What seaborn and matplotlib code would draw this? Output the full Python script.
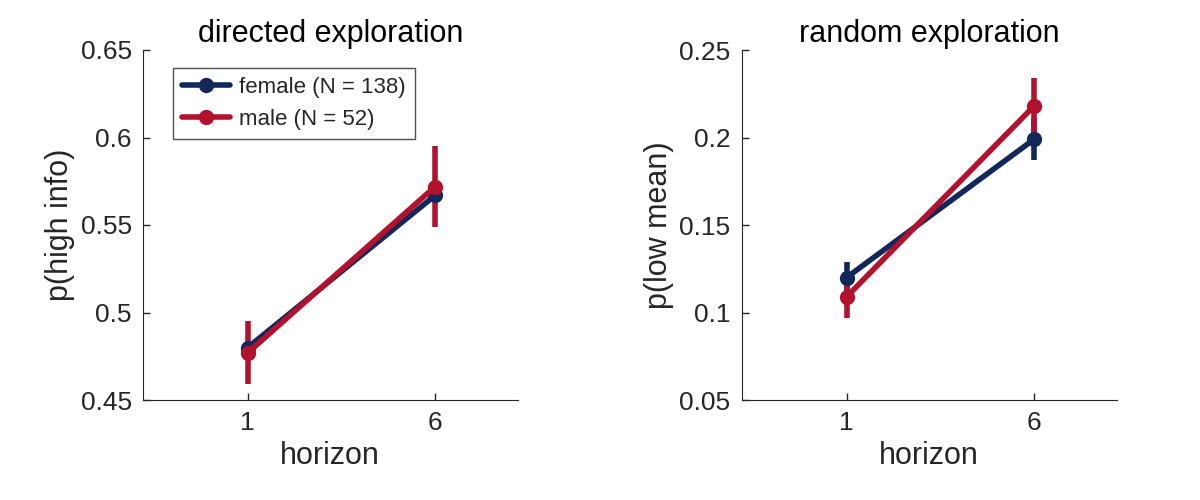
import matplotlib
matplotlib.use('Agg')
import matplotlib.pyplot as plt
import seaborn as sns
import pandas as pd

# 데이터
horizon = [1, 6]
groups = ['female (N = 138)', 'male (N = 52)']
colors = ['#12285a', '#b3122e']

info_female = [0.480, 0.567]
info_female_err = [0.004, 0.004]
info_male = [0.477, 0.572]
info_male_err = [0.018, 0.023]

low_female = [0.120, 0.199]
low_female_err = [0.009, 0.012]
low_male = [0.109, 0.218]
low_male_err = [0.012, 0.016]

sns.set_style('white')
plt.rcParams['font.family'] = ['Liberation Sans', 'DejaVu Sans']

fig = plt.figure(figsize=(12, 5), dpi=100)
ax1 = fig.add_axes([0.119, 0.2, 0.3125, 0.7])
ax2 = fig.add_axes([0.618, 0.2, 0.3125, 0.7])


def draw(ax, vals, errs, title, ylabel, ylim, yticks, yticklabels, legend):
    rows = []
    for g, v in zip(groups, vals):
        for h, y in zip(horizon, v):
            rows.append({'horizon': h, 'p': y, 'group': g})
    df = pd.DataFrame(rows)
    sns.lineplot(data=df, x='horizon', y='p', hue='group', palette=colors,
                 marker='o', markersize=11, markeredgewidth=0, linewidth=4,
                 ax=ax, legend=legend, zorder=3)
    for v, e, c in zip(vals, errs, colors):
        ax.errorbar(horizon, v, yerr=e, fmt='none', ecolor=c, elinewidth=4,
                    capsize=0, zorder=2)
    ax.set_xlim(-1.8, 8.2)
    ax.set_ylim(*ylim)
    ax.set_xticks(horizon)
    ax.set_yticks(yticks)
    ax.set_yticklabels(yticklabels)
    ax.tick_params(labelsize=19, direction='in', length=5, width=1,
                   left=True, bottom=True, pad=8, colors='#262626')
    ax.set_xlabel('horizon', fontsize=22, color='#262626')
    ax.set_ylabel(ylabel, fontsize=22, color='#262626')
    ax.set_title(title, fontsize=22, color='black')
    for s in ['top', 'right']:
        ax.spines[s].set_visible(False)
    for s in ['left', 'bottom']:
        ax.spines[s].set_color('#262626')
    if legend:
        leg = ax.legend(loc='upper left', fontsize=16, frameon=True,
                        fancybox=False, edgecolor='#262626',
                        bbox_to_anchor=(0.05, 0.98), handlelength=2.2,
                        handletextpad=0.4, borderpad=0.4)
        leg.get_frame().set_linewidth(1)


draw(ax1, [info_female, info_male], [info_female_err, info_male_err],
     'directed exploration', 'p(high info)', (0.45, 0.65),
     [0.45, 0.5, 0.55, 0.6, 0.65], ['0.45', '0.5', '0.55', '0.6', '0.65'], True)
draw(ax2, [low_female, low_male], [low_female_err, low_male_err],
     'random exploration', 'p(low mean)', (0.05, 0.25),
     [0.05, 0.1, 0.15, 0.2, 0.25], ['0.05', '0.1', '0.15', '0.2', '0.25'], False)

fig.savefig('out.png', dpi=100)
